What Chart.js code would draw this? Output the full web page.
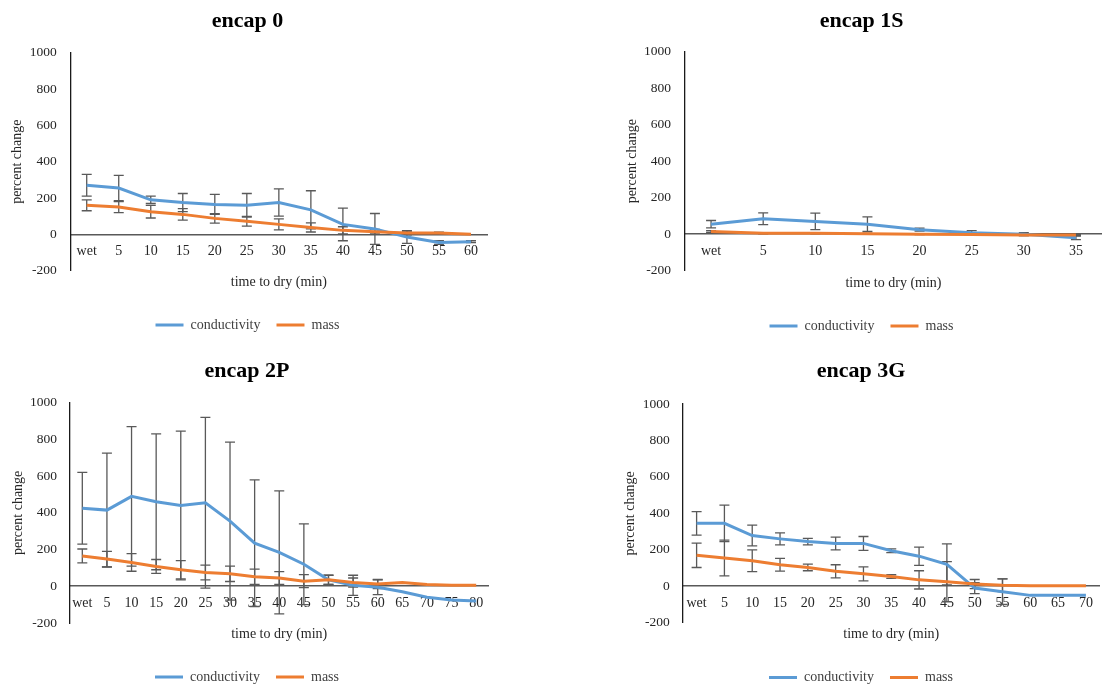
<!DOCTYPE html>
<html><head><meta charset="utf-8">
<script src="https://cdn.jsdelivr.net/npm/chart.js@4.4.1/dist/chart.umd.min.js"></script>
<style>
html,body{margin:0;padding:0;background:#fff;overflow:hidden;width:1102px;height:690px;}
#wrap{position:relative;width:1102px;height:690px;overflow:hidden;background:#fff;}
canvas{position:absolute;}
</style></head><body>
<div id="wrap">
<canvas id="c0" width="551" height="345" style="left:0;top:0"></canvas>
<canvas id="c1" width="551" height="345" style="left:551px;top:0"></canvas>
<canvas id="c2" width="551" height="355" style="left:0;top:340px"></canvas>
<canvas id="c3" width="551" height="355" style="left:551px;top:340px"></canvas>
</div>
<script>
// ---- data ----
const titles = ['encap 0', 'encap 1S', 'encap 2P', 'encap 3G'];
const seriesNames = ['conductivity', 'mass'];
const yTickMin = -200, yTickMax = 1000, yTickStep = 200;

const cats0 = ['wet','5','10','15','20','25','30','35','40','45','50','55','60'];
const cond0 = [270,255,190,175,165,160,175,135,55,30,-15,-45,-40];
const cond0Err = [60,70,20,50,55,65,75,105,90,85,35,10,5];
const mass0 = [160,150,125,110,88,72,55,38,22,15,8,7,0];
const mass0Err = [30,30,35,32,26,27,30,25,20,12,10,5,0];

const cats1 = ['wet','5','10','15','20','25','30','35'];
const cond1 = [55,85,70,55,25,8,0,-20];
const cond1Err = [20,32,45,40,8,12,8,10];
const mass1 = [15,5,5,3,0,-2,-5,-5];
const mass1Err = [5,3,3,3,2,2,2,2];

const cats2 = ['wet','5','10','15','20','25','30','35','40','45','50','55','60','65','70','75','80'];
const cond2 = [425,415,490,460,440,455,355,235,185,120,35,5,-5,-30,-60,-75,-80];
const cond2Err = [195,310,380,370,405,465,430,345,335,220,25,55,40,0,0,0,0];
const mass2 = [165,148,130,108,90,75,68,52,45,28,35,20,12,20,10,5,5];
const mass2Err = [38,42,48,38,50,40,42,42,35,35,25,25,25,0,0,0,0];

const cats3 = ['wet','5','10','15','20','25','30','35','40','45','50','55','60','65','70'];
const cond3 = [345,345,278,260,245,235,235,195,165,120,-10,-30,-50,-50,-50];
const cond3Err = [65,100,57,33,18,35,38,10,50,112,30,70,0,0,0];
const mass3 = [170,155,140,118,103,82,68,53,35,25,12,5,3,3,3];
const mass3Err = [67,98,60,35,18,36,38,10,50,110,25,35,0,0,0];

// ---- style ----
const BLUE = '#5B9BD5', ORANGE = '#ED7D31', ERR = '#595959';
Chart.defaults.font.family = "'Liberation Serif', 'Times New Roman', serif";
Chart.defaults.color = '#262626';

function errorBars(errs) {
  return {
    id: 'errorBars',
    beforeDatasetsDraw(chart) {
      const ctx = chart.ctx, ys = chart.scales.y;
      ctx.save();
      ctx.strokeStyle = ERR;
      ctx.lineWidth = 1.3;
      chart.data.datasets.forEach((ds, di) => {
        const meta = chart.getDatasetMeta(di);
        const e = errs[di];
        meta.data.forEach((pt, i) => {
          const err = e[i];
          if (!err) return;
          const v = ds.data[i];
          const x = pt.x;
          const yt = ys.getPixelForValue(v + err), yb = ys.getPixelForValue(v - err);
          ctx.beginPath();
          ctx.moveTo(x, yt); ctx.lineTo(x, yb);
          ctx.moveTo(x - 5, yt); ctx.lineTo(x + 5, yt);
          ctx.moveTo(x - 5, yb); ctx.lineTo(x + 5, yb);
          ctx.stroke();
        });
      });
      ctx.restore();
    }
  };
}

function makeChart(id, p) {
  new Chart(document.getElementById(id), {
    type: 'line',
    data: {
      labels: p.labels,
      datasets: [
        { label: seriesNames[0], data: p.cond, borderColor: BLUE, backgroundColor: BLUE, borderWidth: 3,
          pointRadius: 0, tension: 0, order: 1, xAxisID: 'x', yAxisID: 'y' },
        { label: seriesNames[1], data: p.mass, borderColor: ORANGE, backgroundColor: ORANGE, borderWidth: 3,
          pointRadius: 0, tension: 0, order: 0, xAxisID: 'x', yAxisID: 'y' }
      ]
    },
    options: {
      responsive: false,
      animation: false,
      layout: { padding: p.pad },
      plugins: {
        tooltip: { enabled: false },
        title: {
          display: true, text: p.title, color: '#000',
          font: { size: 22, weight: 'bold' },
          padding: p.titlePad
        },
        legend: {
          position: 'bottom',
          labels: {
            boxWidth: 28, boxHeight: 3, padding: 16, color: '#404040',
            font: { size: 14 },
            sort: (a, b) => a.datasetIndex - b.datasetIndex,
            generateLabels(chart) {
              const items = Chart.defaults.plugins.legend.labels.generateLabels(chart);
              items.forEach(it => { it.lineWidth = 0; it.fillStyle = it.strokeStyle; });
              return items;
            }
          }
        }
      },
      scales: {
        x: {
          type: 'category', position: { y: 0 }, offset: true,
          grid: { display: false, drawTicks: false },
          border: { display: true, color: '#595959', width: 1.6 },
          ticks: { padding: 9, maxRotation: 0, autoSkip: false, font: { size: 14 }, color: '#262626' }
        },
        y: {
          min: yTickMin, max: yTickMax,
          grid: { display: false, drawTicks: false },
          border: { display: true, color: '#1a1a1a', width: 1.3 },
          ticks: { stepSize: yTickStep, padding: p.yTickPad, font: { size: 13.5 }, color: '#262626',
                   callback: v => String(v) },
          title: { display: true, text: 'percent change', font: { size: 14 }, color: '#262626',
                   padding: { top: p.yTitlePad, bottom: 0 } },
          afterFit: s => { s.width = p.yW; }
        },
        x2: {
          type: 'category', position: 'bottom',
          grid: { display: false, drawTicks: false },
          border: { display: false },
          ticks: { display: false },
          title: { display: true, text: 'time to dry (min)', font: { size: 14 }, color: '#262626',
                   padding: p.xTitlePad }
        }
      }
    },
    plugins: [errorBars([p.condErr, p.massErr])]
  });
}

makeChart('c0', { title: titles[0], labels: cats0, cond: cond0, mass: mass0, condErr: cond0Err, massErr: mass0Err,
  pad: { left: 8, right: 64, top: 0, bottom: 3 }, titlePad: { top: 8, bottom: 18.3 },
  xTitlePad: { top: 2.9, bottom: 11.6 }, yW: 62.7, yTickPad: 14, yTitlePad: 0.6 });
makeChart('c1', { title: titles[1], labels: cats1, cond: cond1, mass: mass1, condErr: cond1Err, massErr: mass1Err,
  pad: { left: 70, right: 0, top: 0, bottom: 2 }, titlePad: { top: 8, bottom: 17.3 },
  xTitlePad: { top: 4.4, bottom: 11.1 }, yW: 64, yTickPad: 14, yTitlePad: 2.6 });
makeChart('c2', { title: titles[2], labels: cats2, cond: cond2, mass: mass2, condErr: cond2Err, massErr: mass2Err,
  pad: { left: 5.5, right: 62.5, top: 0, bottom: 1 }, titlePad: { top: 18.3, bottom: 18 },
  xTitlePad: { top: 2.6, bottom: 11.6 }, yW: 64.5, yTickPad: 13, yTitlePad: 4.1 });
makeChart('c3', { title: titles[3], labels: cats3, cond: cond3, mass: mass3, condErr: cond3Err, massErr: mass3Err,
  pad: { left: 71, right: 2, top: 0, bottom: 0.5 }, titlePad: { top: 18.3, bottom: 19.3 },
  xTitlePad: { top: 2.9, bottom: 12.1 }, yW: 60.7, yTickPad: 13, yTitlePad: 0 });
</script>
</body></html>
